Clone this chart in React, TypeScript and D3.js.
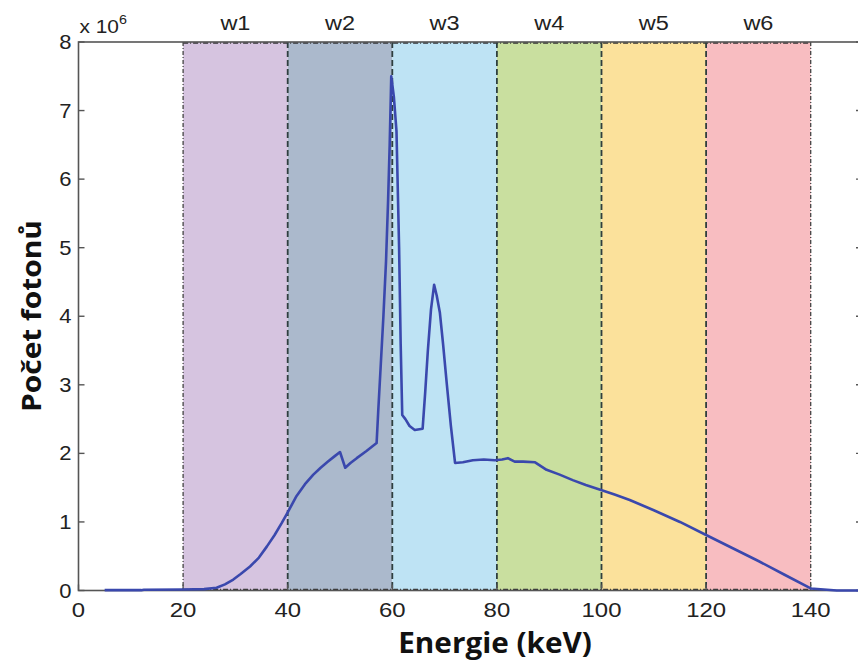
import React from "react";
import * as d3 from "d3";

// Photon spectrum (energy in keV, counts in units of 1e6)
const energy = [5, 12, 12.5, 20, 24, 26.4, 28, 29.6, 31, 32.8, 34.5, 36, 37.5, 38.9, 40, 41.7, 43.3, 44.9, 46.3, 47.7, 49, 50, 51, 52, 53.2, 55, 57, 57.3, 57.8, 58.3, 58.8, 59.2, 59.5, 59.8, 60.3, 60.8, 61.3, 61.6, 61.9, 62.5, 63.3, 64.3, 65.8, 66.3, 66.8, 67.4, 68, 68.5, 69.1, 69.7, 70.4, 71.2, 72, 73.5, 75.4, 77.5, 79.6, 81, 82.1, 83.4, 85, 87.3, 89.5, 92, 94.5, 97, 100.2, 102.5, 105.4, 110, 115, 120, 125, 130, 135, 140, 145, 150];
const counts = [0.005, 0.005, 0.012, 0.015, 0.02, 0.04, 0.09, 0.16, 0.24, 0.35, 0.48, 0.64, 0.81, 0.99, 1.14, 1.38, 1.55, 1.69, 1.79, 1.88, 1.96, 2.02, 1.79, 1.86, 1.93, 2.03, 2.15, 2.6, 3.3, 4.0, 4.8, 5.7, 6.5, 7.5, 7.2, 6.7, 5.0, 3.6, 2.56, 2.5, 2.4, 2.34, 2.36, 2.9, 3.5, 4.1, 4.46, 4.3, 4.05, 3.6, 3.03, 2.4, 1.86, 1.87, 1.9, 1.91, 1.9, 1.91, 1.93, 1.88, 1.88, 1.87, 1.76, 1.69, 1.61, 1.54, 1.46, 1.4, 1.32, 1.17, 1.0, 0.81, 0.62, 0.43, 0.23, 0.03, 0, 0];

const windowNames = ["w1", "w2", "w3", "w4", "w5", "w6"];
const windowStarts = [20, 40, 60, 80, 100, 120];
const windowEnds = [40, 60, 80, 100, 120, 140];
const windowColors = ["#d6c4e0", "#abb9cc", "#bee3f4", "#c9df9f", "#fbe19b", "#f8bdc1"];

const xTicks = [0, 20, 40, 60, 80, 100, 120, 140];
const yTicks = [0, 1, 2, 3, 4, 5, 6, 7, 8];

const W = 858;
const H = 661;
const left = 78.5;
const right = 863;
const top = 42;
const bottom = 590.5;

export default function App() {
  const x = d3.scaleLinear().domain([0, 150]).range([left, right]);
  const y = d3.scaleLinear().domain([0, 8]).range([bottom, top]);
  const pts = energy.map((e, i) => [e, counts[i]] as [number, number]);
  const line = d3
    .line<[number, number]>()
    .x((d) => x(d[0]))
    .y((d) => y(d[1]));

  const axisColor = "#555";
  const tickFont = "'Liberation Sans', Arial, sans-serif";
  const boldFont = "'Open Sans', 'Noto Sans', sans-serif";

  return (
    <svg
      width={W}
      height={H}
      style={{ position: "absolute", left: 0, top: 0, background: "#fff" }}
    >
      {/* window bands */}
      {windowNames.map((n, i) => (
        <rect
          key={"b" + n}
          x={x(windowStarts[i])}
          y={top}
          width={x(windowEnds[i]) - x(windowStarts[i])}
          height={bottom - top}
          fill={windowColors[i]}
        />
      ))}
      {/* dashed band top / bottom edges */}
      <line
        x1={x(20)}
        x2={x(140)}
        y1={top + 1}
        y2={top + 1}
        stroke="#333"
        strokeWidth={1.3}
        strokeDasharray="5,2,1,2"
      />
      <line
        x1={x(20)}
        x2={x(140)}
        y1={bottom - 1}
        y2={bottom - 1}
        stroke="#333"
        strokeWidth={1.3}
        strokeDasharray="5,2,1,2"
      />
      {/* dashed band boundaries */}
      {[20, 40, 60, 80, 100, 120, 140].map((v) => (
        <line
          key={"d" + v}
          x1={x(v)}
          x2={x(v)}
          y1={top}
          y2={bottom}
          stroke={v === 20 || v === 140 ? "#444" : "#2f3f3f"}
          strokeWidth={v === 20 || v === 140 ? 1.3 : 1.8}
          strokeDasharray={v === 20 || v === 140 ? "4,2,1,2" : "6,3"}
        />
      ))}
      {/* window labels */}
      {windowNames.map((n, i) => {
        const cx = x((windowStarts[i] + windowEnds[i]) / 2);
        return (
          <text
            key={"w" + n}
            transform={`translate(${cx},30) scale(1.12,1)`}
            textAnchor="middle"
            fontFamily={tickFont}
            fontSize={21}
            fill="#222"
          >
            {n}
          </text>
        );
      })}
      {/* frame */}
      <rect
        x={left}
        y={top}
        width={right - left}
        height={bottom - top}
        fill="none"
        stroke={axisColor}
        strokeWidth={1.6}
      />
      {/* y ticks */}
      {yTicks.map((t) => (
        <g key={"yt" + t}>
          <line x1={left} x2={left + 6} y1={y(t)} y2={y(t)} stroke={axisColor} strokeWidth={1.4} />
          <line x1={right} x2={right - 7} y1={y(t)} y2={y(t)} stroke={axisColor} strokeWidth={1.4} />
          <text
            transform={`translate(${left - 7},${y(t) + 7}) scale(1.1,1)`}
            textAnchor="end"
            fontFamily={tickFont}
            fontSize={20}
            fill="#222"
          >
            {t}
          </text>
        </g>
      ))}
      {/* x ticks */}
      {xTicks.map((t) => (
        <g key={"xt" + t}>
          <line x1={x(t)} x2={x(t)} y1={bottom} y2={bottom - 6} stroke={axisColor} strokeWidth={1.4} />
          <text
            transform={`translate(${x(t)},${bottom + 26}) scale(1.14,1)`}
            textAnchor="middle"
            fontFamily={tickFont}
            fontSize={21}
            fill="#222"
          >
            {t}
          </text>
        </g>
      ))}
      {/* exponent label */}
      <text
        transform={`translate(${left + 1},33) scale(1.1,1)`}
        fontFamily={tickFont}
        fontSize={19}
        fill="#222"
      >
        x 10
        <tspan dy={-9} fontSize={13}>
          6
        </tspan>
      </text>
      {/* spectrum line */}
      <path
        d={line(pts) || ""}
        fill="none"
        stroke="#3a48ad"
        strokeWidth={2.6}
        strokeLinejoin="round"
      />
      {/* axis titles */}
      <text
        transform="translate(495,653) scale(1.06,1)"
        textAnchor="middle"
        fontFamily={boldFont}
        fontWeight={700}
        fontSize={28}
        fill="#111"
      >
        Energie (keV)
      </text>
      <text
        transform="translate(41,316) rotate(-90) scale(1.15,1)"
        textAnchor="middle"
        fontFamily={boldFont}
        fontWeight={700}
        fontSize={26}
        fill="#111"
      >
        Počet fotonů
      </text>
    </svg>
  );
}
